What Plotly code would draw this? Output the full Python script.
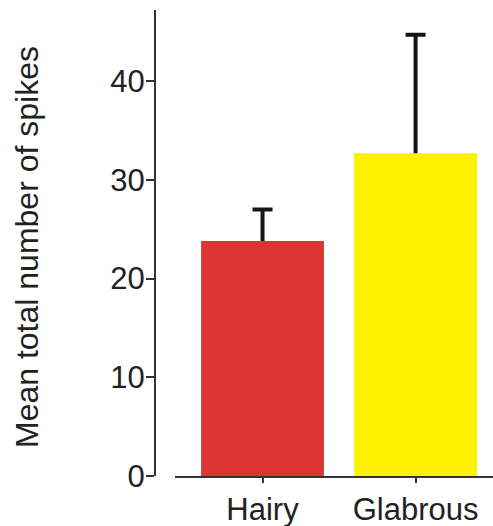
import plotly.graph_objects as go

categories = ["Hairy", "Glabrous"]
mean_spikes = [23.8, 32.7]
error_plus = [3.2, 12.0]
bar_colors = ["#DC3430", "#FFF200"]
y_ticks = [0, 10, 20, 30, 40]
y_title = "Mean total number of spikes"

W, H = 493, 526
ml, mr, mt, mb = 155, 0, 10, 50
pw = W - ml - mr

fig = go.Figure()
# error bars (lower part hidden by the bars drawn above)
fig.add_trace(go.Bar(
    x=[0, 1],
    y=mean_spikes,
    width=0.8,
    marker=dict(color=bar_colors, line=dict(width=0)),
    error_y=dict(type="data", symmetric=False, array=error_plus, arrayminus=[2, 2],
                 color="#151515", thickness=4, width=10),
))
fig.add_trace(go.Bar(
    x=[0, 1],
    y=mean_spikes,
    width=0.8,
    marker=dict(color=bar_colors, line=dict(width=0)),
))

fam = "Liberation Sans, Arial, sans-serif"
fnt = dict(family=fam, size=31, color="#222222")
tfnt = dict(family=fam, size=32, color="#222222")

fig.update_layout(
    width=W, height=H,
    barmode="overlay",
    margin=dict(l=ml, r=mr, t=mt, b=mb, autoexpand=False),
    plot_bgcolor="white", paper_bgcolor="white",
    showlegend=False,
    font=fnt,
    xaxis=dict(
        domain=[20 / pw, 1],
        range=[-0.572, 1.506],
        tickmode="array", tickvals=[0, 1], ticktext=categories,
        showline=True, linecolor="#333333", linewidth=2,
        ticks="outside", ticklen=5, tickwidth=1.5, tickcolor="#333333",
        showgrid=False, zeroline=False, tickfont=fnt, automargin=False,
    ),
    yaxis=dict(
        anchor="free", position=0,
        range=[0, 47.2],
        tickmode="array", tickvals=y_ticks,
        showline=True, linecolor="#333333", linewidth=2,
        ticks="outside", ticklen=8, tickwidth=2, tickcolor="#333333",
        ticklabelstandoff=-5,
        showgrid=False, zeroline=False, tickfont=fnt, automargin=False,
    ),
    annotations=[dict(
        text=y_title, textangle=-90, showarrow=False,
        xref="paper", yref="paper", x=(27 - ml) / pw, y=(H - mb - 247) / (H - mt - mb),
        xanchor="center", yanchor="middle", font=tfnt,
    )],
)

fig.write_html("out.html", config={"displayModeBar": False},
               post_script="document.body.style.margin='0';document.body.style.overflow='hidden';")
